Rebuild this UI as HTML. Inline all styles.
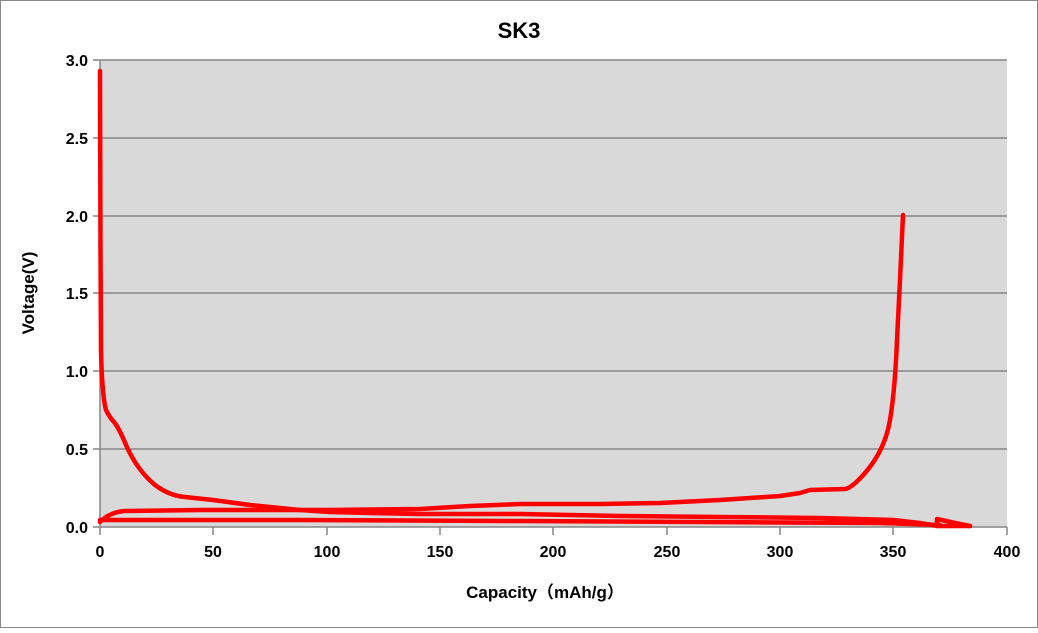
<!DOCTYPE html>
<html><head><style>body{margin:0;background:#fff}</style></head><body>
<svg width="1038" height="628" xmlns="http://www.w3.org/2000/svg" font-family="Liberation Sans, Noto Sans CJK SC, sans-serif">
<rect x="0.5" y="0.5" width="1037" height="627" fill="#fff" stroke="#888"/>
<rect x="100" y="60" width="907" height="467" fill="#d9d9d9"/>
<g stroke="#868686" stroke-width="1.5">
<line x1="100" y1="60" x2="1007" y2="60"/><line x1="100" y1="138" x2="1007" y2="138"/>
<line x1="100" y1="216" x2="1007" y2="216"/><line x1="100" y1="293" x2="1007" y2="293"/>
<line x1="100" y1="371" x2="1007" y2="371"/><line x1="100" y1="449" x2="1007" y2="449"/>
<line x1="100" y1="527" x2="1007" y2="527"/><line x1="100" y1="60" x2="100" y2="527"/>
<line x1="93" y1="60" x2="100" y2="60"/><line x1="93" y1="138" x2="100" y2="138"/><line x1="93" y1="216" x2="100" y2="216"/><line x1="93" y1="293" x2="100" y2="293"/><line x1="93" y1="371" x2="100" y2="371"/><line x1="93" y1="449" x2="100" y2="449"/><line x1="93" y1="527" x2="100" y2="527"/>
<line x1="100" y1="527" x2="100" y2="535"/><line x1="213" y1="527" x2="213" y2="535"/><line x1="327" y1="527" x2="327" y2="535"/><line x1="440" y1="527" x2="440" y2="535"/><line x1="553" y1="527" x2="553" y2="535"/><line x1="667" y1="527" x2="667" y2="535"/><line x1="780" y1="527" x2="780" y2="535"/><line x1="893" y1="527" x2="893" y2="535"/><line x1="1007" y1="527" x2="1007" y2="535"/>
</g>
<g font-size="16" font-weight="bold" fill="#000" text-anchor="end">
<text x="88" y="66">3.0</text><text x="88" y="144">2.5</text><text x="88" y="222">2.0</text><text x="88" y="299">1.5</text><text x="88" y="377">1.0</text><text x="88" y="455">0.5</text><text x="88" y="533">0.0</text>
</g>
<g font-size="16" font-weight="bold" fill="#000" text-anchor="middle">
<text x="100" y="557">0</text><text x="213" y="557">50</text><text x="327" y="557">100</text><text x="440" y="557">150</text><text x="553" y="557">200</text><text x="667" y="557">250</text><text x="780" y="557">300</text><text x="893" y="557">350</text><text x="1007" y="557">400</text>
<text x="545" y="598" font-size="17">Capacity（mAh/g）</text>
<text x="519" y="38" font-size="22">SK3</text>
<text transform="translate(34,293) rotate(-90)" font-size="17">Voltage(V)</text>
</g>
<g fill="none" stroke="#ff0000" stroke-width="4.5" stroke-linejoin="round" stroke-linecap="round">
<path d="M100,71 L100.5,250 L101,350 Q102,395 106,410 Q110,418 114,422 Q119,428 126,445 Q137,470 155,485 Q170,496 185,497 L213,500 L250,505 L300,510 L330,512 L370,513 L420,514 L520,514 L620,516 L720,517 L820,518 L893,520 L920,523 L938,526 L970,526"/>
<path d="M937,526 L937,519 L955,523 L970,526"/>
<path d="M100,522 Q110,512 125,511 L200,510 L327,510 L420,509 L470,506 L520,504 L600,504 L660,503 L720,500 L780,496 L800,493 L810,490 L845,489 Q852,488 865,473 Q885,450 890,420 Q895,390 897,340 L900,280 L903,215"/>
<path d="M100,520 L300,520 L520,521 L700,522 L880,523 L940,525"/>
</g>
</svg>
</body></html>
